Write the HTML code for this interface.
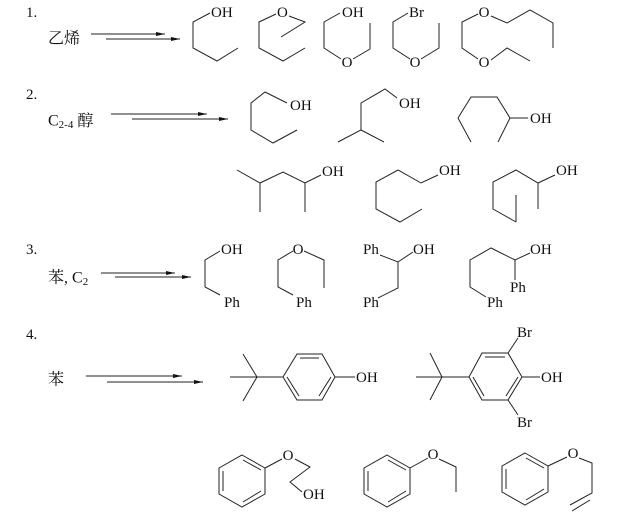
<!DOCTYPE html>
<html><head><meta charset="utf-8"><style>
body{margin:0;background:#fff;}
svg{display:block;}
text{font-family:"Liberation Serif","Noto Serif CJK SC",serif;font-size:15px;fill:#111;}
.cn{font-size:16px;}
</style></head><body>
<svg width="618" height="516" viewBox="0 0 618 516" xmlns="http://www.w3.org/2000/svg">
<defs><marker id="ah" markerUnits="userSpaceOnUse" markerWidth="9" markerHeight="6" refX="9" refY="3" orient="auto"><path d="M0,1 L9,3 L0,5 z" fill="#111"/></marker></defs>
<g stroke="#222" stroke-width="1" fill="none">
<!-- arrows -->
<line x1="91" y1="34" x2="165" y2="34" marker-end="url(#ah)"/>
<line x1="106" y1="39" x2="180" y2="39" marker-end="url(#ah)"/>
<line x1="111" y1="114" x2="207" y2="114" marker-end="url(#ah)"/>
<line x1="132" y1="119" x2="228" y2="119" marker-end="url(#ah)"/>
<line x1="101" y1="273" x2="175" y2="273" marker-end="url(#ah)"/>
<line x1="115" y1="277" x2="191" y2="277" marker-end="url(#ah)"/>
<line x1="86" y1="376" x2="182" y2="376" marker-end="url(#ah)"/>
<line x1="107" y1="382" x2="203" y2="382" marker-end="url(#ah)"/>
<!-- row 1 -->
<polyline points="210,13 193,22 193,48 217,61 238,48"/>
<polyline points="276,14 259,22 259,48 283,61 305,48"/>
<polyline points="289,16 305,22 281,37"/>
<polyline points="340,13 324,22 324,48 341,59"/>
<polyline points="353,59 370,49 370,23"/>
<polyline points="408,13 393,22 393,48 410,59"/>
<polyline points="421,59 439,48 439,23"/>
<polyline points="478,14 462,22 462,48 478,59"/>
<polyline points="491,16 507,23 530,10 553,23 553,48"/>
<polyline points="491,60 507,48 530,61"/>
<!-- row 2 -->
<polyline points="287,103 265,92 251,103 251,130 273,143 297,130"/>
<polyline points="397,98 385,89 361,103 361,130 338,142"/>
<line x1="361" y1="130" x2="384" y2="142"/>
<polyline points="471,142 458,118 471,97 497,97 510,118 528,118"/>
<line x1="510" y1="118" x2="498" y2="142"/>
<polyline points="237,170 260,183 283,172 305,183 321,175"/>
<line x1="260" y1="183" x2="260" y2="212"/>
<line x1="305" y1="183" x2="305" y2="212"/>
<polyline points="438,175 421,183 398,170 376,182 376,209 400,222 422,209"/>
<polyline points="555,175 538,183 516,170 493,182 493,209 516,222"/>
<line x1="538" y1="183" x2="538" y2="209"/>
<line x1="516" y1="195" x2="516" y2="222"/>
<!-- row 3 -->
<polyline points="220,251 205,260 205,287 220,295"/>
<polyline points="293,251 278,260 278,287 293,295"/>
<polyline points="304,251 324,260 324,288"/>
<polyline points="380,255 398,262 413,252"/>
<polyline points="398,262 398,288 378,298"/>
<polyline points="486,297 470,287 470,260 491,248 515,260 530,253"/>
<line x1="515" y1="260" x2="515" y2="280"/>
<!-- row 4 -->
<line x1="230" y1="377" x2="283" y2="377"/><line x1="257" y1="377" x2="243" y2="354"/><line x1="257" y1="377" x2="243" y2="401"/>
<polygon points="283,377 297,354 322,354 335,377 322,400 297,400"/>
<line x1="300" y1="358" x2="319" y2="358"/><line x1="331" y1="377" x2="319" y2="396"/><line x1="287" y1="377" x2="299" y2="396"/>
<line x1="335" y1="377" x2="355" y2="377"/>
<line x1="416" y1="377" x2="469" y2="377"/><line x1="442" y1="377" x2="430" y2="353"/><line x1="442" y1="377" x2="430" y2="400"/>
<polygon points="469,377 482,353 508,353 522,377 508,400 482,400"/>
<line x1="485" y1="357" x2="505" y2="357"/><line x1="518" y1="377" x2="506" y2="396"/><line x1="473" y1="377" x2="484" y2="396"/>
<line x1="522" y1="377" x2="540" y2="377"/>
<line x1="508" y1="353" x2="518" y2="338"/><line x1="508" y1="400" x2="518" y2="415"/>
<!-- bottom ethers -->
<polygon points="242,455 265,468 265,494 242,507 219,494 219,468"/>
<line x1="243" y1="460" x2="261" y2="470"/><line x1="261" y1="491" x2="243" y2="502"/><line x1="223" y1="471" x2="223" y2="491"/>
<line x1="265" y1="468" x2="282" y2="459"/><polyline points="295,459 310,467 290,482 302,492"/>
<polygon points="387,455 410,468 410,494 387,507 364,494 364,468"/>
<line x1="388" y1="460" x2="406" y2="470"/><line x1="406" y1="491" x2="388" y2="502"/><line x1="368" y1="471" x2="368" y2="491"/>
<line x1="410" y1="468" x2="428" y2="458"/><polyline points="439,459 456,467 456,492"/>
<polygon points="525,453 548,466 548,492 525,505 502,492 502,466"/>
<line x1="526" y1="458" x2="544" y2="468"/><line x1="544" y1="489" x2="526" y2="500"/><line x1="506" y1="469" x2="506" y2="489"/>
<line x1="548" y1="466" x2="567" y2="457"/><polyline points="579,458 592,463 592,493 570,505"/>
<line x1="590" y1="500" x2="572" y2="511"/>
</g>
<g dominant-baseline="central">
<text x="26" y="13">1.</text>
<text x="48" y="39" class="cn">乙烯</text>
<text x="211" y="13">OH</text>
<text x="277" y="13">O</text>
<text x="342" y="13">OH</text>
<text x="409" y="13">Br</text>
<text x="347" y="63" text-anchor="middle">O</text>
<text x="415" y="63" text-anchor="middle">O</text>
<text x="484" y="13" text-anchor="middle">O</text>
<text x="484" y="63" text-anchor="middle">O</text>
<text x="26" y="95">2.</text>
<text x="48" y="121" class="cn">C<tspan font-size="11" dy="4">2-4</tspan><tspan dy="-4"> 醇</tspan></text>
<text x="290" y="106">OH</text>
<text x="399" y="104">OH</text>
<text x="530" y="119">OH</text>
<text x="322" y="172">OH</text>
<text x="439" y="171">OH</text>
<text x="556" y="171">OH</text>
<text x="26" y="250">3.</text>
<text x="48" y="278" class="cn">苯, C<tspan font-size="11" dy="4">2</tspan></text>
<text x="221" y="250">OH</text>
<text x="224" y="303">Ph</text>
<text x="298" y="250" text-anchor="middle">O</text>
<text x="296" y="303">Ph</text>
<text x="363" y="250">Ph</text>
<text x="413" y="250">OH</text>
<text x="363" y="303">Ph</text>
<text x="530" y="250">OH</text>
<text x="510" y="288">Ph</text>
<text x="487" y="303">Ph</text>
<text x="26" y="335">4.</text>
<text x="48" y="380" class="cn">苯</text>
<text x="356" y="378">OH</text>
<text x="541" y="378">OH</text>
<text x="517" y="333">Br</text>
<text x="517" y="423">Br</text>
<text x="288" y="456" text-anchor="middle">O</text>
<text x="303" y="495">OH</text>
<text x="433" y="455" text-anchor="middle">O</text>
<text x="573" y="454" text-anchor="middle">O</text>
</g>
</svg>
</body></html>
